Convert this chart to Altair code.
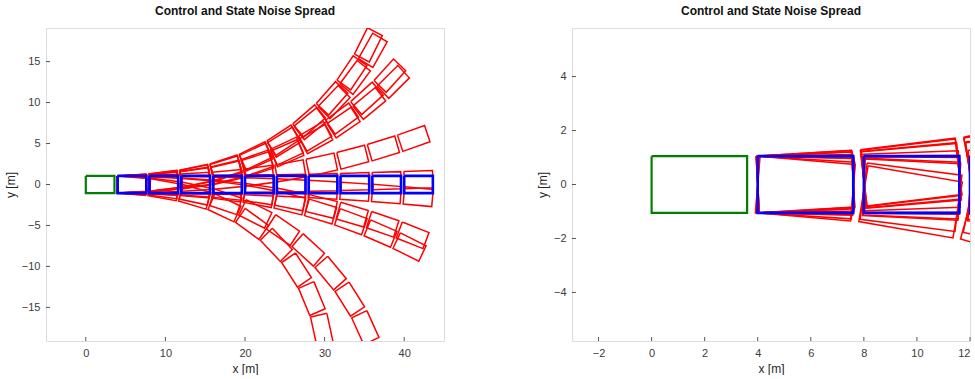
import math
import altair as alt
import pandas as pd

# ---------------- data ----------------
green_rear_x = [0.0]
blue_rear_x = [4, 8, 12, 16, 20, 24, 28, 32, 36, 40]
# red trajectories: heading (deg) reached at the 10th box
red_final_heading = [63, 60, 47, 44, 19, 2, -5, -21, -26, -65, -88]
# fraction of the final heading reached at each box (steps 1..10)
heading_profile = [0.055, 0.11, 0.18, 0.28, 0.40, 0.52, 0.64, 0.76, 0.88, 1.0]
step_length = 4.0
box_length = 3.6
box_width = 2.1

left_x_ticks = [0, 10, 20, 30, 40]
left_y_ticks = [-15, -10, -5, 0, 5, 10, 15]
right_x_ticks = [-2, 0, 2, 4, 6, 8, 10, 12]
right_y_ticks = [-4, -2, 0, 2, 4]

# ---------------- build box outlines ----------------
rows = []


def add_box(kind, bid, px, py, th):
    c, s = math.cos(th), math.sin(th)
    hw = box_width / 2
    pts = [(0.0, hw), (box_length, hw), (box_length, -hw), (0.0, -hw), (0.0, hw)]
    for v, (a, b) in enumerate(pts):
        rows.append({"kind": kind, "box": bid, "v": v,
                     "x": px + a * c - b * s, "y": py + a * s + b * c})


add_box("green", "g0", green_rear_x[0], 0.0, 0.0)
for i, bx in enumerate(blue_rear_x):
    add_box("blue", f"b{i}", bx, 0.0, 0.0)
for t, fin in enumerate(red_final_heading):
    px, py = blue_rear_x[0], 0.0
    for k, frac in enumerate(heading_profile):
        th = math.radians(fin * frac)
        add_box("red", f"r{t}_{k}", px, py, th)
        px += step_length * math.cos(th)
        py += step_length * math.sin(th)

df = pd.DataFrame(rows)

FONT = "Liberation Sans"
W, H = 398, 313


def panel(xdom, ydom, xticks, yticks):
    xs = alt.Scale(domain=xdom, nice=False, zero=False)
    ys = alt.Scale(domain=ydom, nice=False, zero=False)
    xa = alt.Axis(values=xticks, title="x [m]", ticks=False, domain=False, grid=False,
                  labelFontSize=11, labelColor="#3c3c3c", labelFont=FONT, labelPadding=6,
                  titleFont=FONT, titleFontSize=12, titleFontWeight="normal",
                  titleColor="#262626", titlePadding=5)
    ya = alt.Axis(values=yticks, title="y [m]", ticks=False, domain=False, grid=False,
                  labelFontSize=11, labelColor="#3c3c3c", labelFont=FONT, labelPadding=6,
                  titleFont=FONT, titleFontSize=12, titleFontWeight="normal",
                  titleColor="#262626", titlePadding=4)
    layers = []
    for kind, col, sw in [("red", "#ff0000", 1.5), ("blue", "#0000ff", 2.6), ("green", "#008000", 2.2)]:
        layers.append(
            alt.Chart(df).transform_filter(alt.datum.kind == kind)
            .mark_line(color=col, strokeWidth=sw, clip=True, strokeJoin="miter")
            .encode(x=alt.X("x:Q", scale=xs, axis=xa),
                    y=alt.Y("y:Q", scale=ys, axis=ya),
                    detail="box:N", order="v:Q")
        )
    xt = alt.Chart(pd.DataFrame({"x": xticks})).mark_rule(color="#555555", strokeWidth=1).encode(
        x=alt.X("x:Q", scale=xs, axis=xa), y=alt.value(H), y2=alt.value(H - 4))
    yt = alt.Chart(pd.DataFrame({"y": yticks})).mark_rule(color="#555555", strokeWidth=1).encode(
        y=alt.Y("y:Q", scale=ys, axis=ya), x=alt.value(0), x2=alt.value(4))
    layers += [xt, yt]
    return alt.layer(*layers).properties(
        width=W, height=H,
        title=alt.Title("Control and State Noise Spread", font=FONT, fontSize=12,
                        fontWeight="bold", color="#111111", offset=10))


left = panel([-5, 45], [-19.1, 19.1], left_x_ticks, left_y_ticks)
right = panel([-3, 12], [-5.8, 5.8], right_x_ticks, right_y_ticks)

chart = alt.hconcat(left, right, spacing=90).properties(
    padding={"left": 3, "top": 4, "right": 0, "bottom": 0}
).configure_view(stroke="#555555", strokeWidth=1).configure(background="white")

chart.save("out.html", embed_options={"renderer": "svg", "actions": False})
